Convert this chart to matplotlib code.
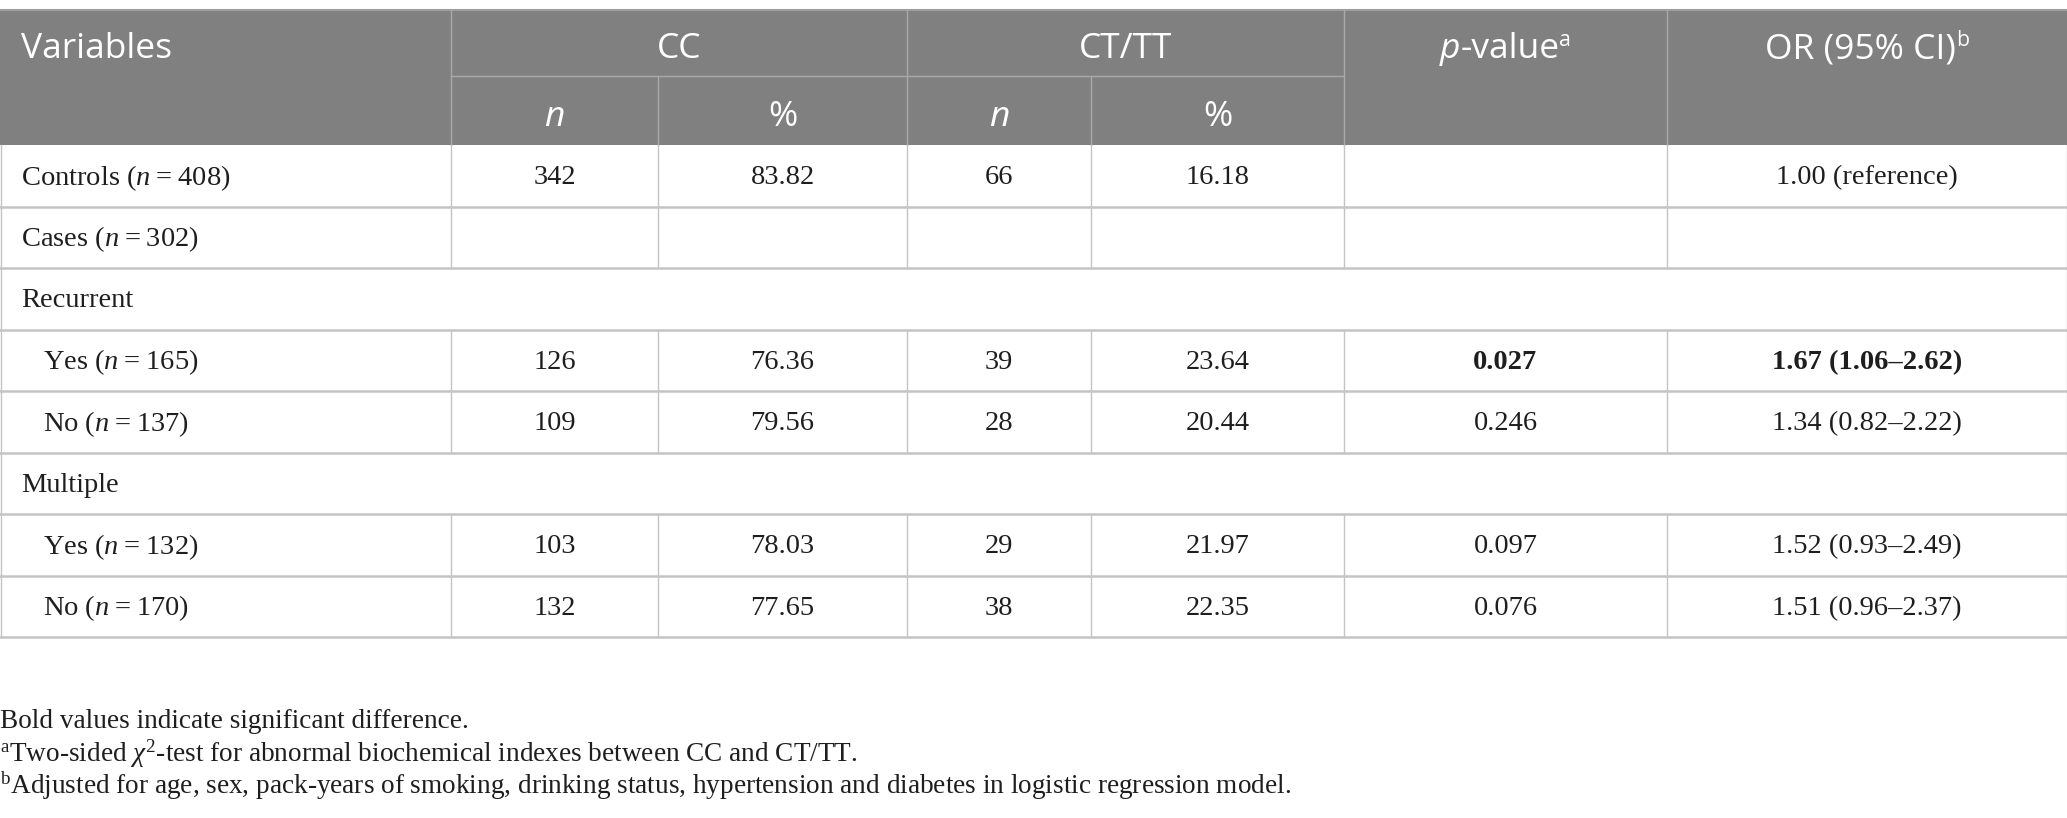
import matplotlib
matplotlib.use("Agg")
import matplotlib.pyplot as plt

plt.rcParams['mathtext.fontset'] = 'custom'
plt.rcParams['mathtext.rm'] = 'Liberation Serif'
plt.rcParams['mathtext.it'] = 'Liberation Serif:italic'
plt.rcParams['mathtext.bf'] = 'Liberation Serif:bold'

# table contents
row_labels = ["Controls ($n$\u2009=\u2009408)", "Cases ($n$\u2009=\u2009302)", "Recurrent",
              "Yes ($n$\u2009=\u2009165)", "No ($n$\u2009=\u2009137)", "Multiple",
              "Yes ($n$\u2009=\u2009132)", "No ($n$\u2009=\u2009170)"]
indented = [False, False, False, True, True, False, True, True]
group_row = [False, False, True, False, False, True, False, False]
cc_n = ["342", "", "", "126", "109", "", "103", "132"]
cc_pct = ["83.82", "", "", "76.36", "79.56", "", "78.03", "77.65"]
ct_n = ["66", "", "", "39", "28", "", "29", "38"]
ct_pct = ["16.18", "", "", "23.64", "20.44", "", "21.97", "22.35"]
p_values = ["", "", "", "0.027", "0.246", "", "0.097", "0.076"]
odds = ["1.00 (reference)", "", "", "1.67 (1.06\u20132.62)",
        "1.34 (0.82\u20132.22)", "", "1.52 (0.93\u20132.49)",
        "1.51 (0.96\u20132.37)"]
bold_row = [False, False, False, True, False, False, False, False]
footnotes = ["Bold values indicate significant difference.",
             "${}^{\\mathrm{a}}$Two-sided $\\chi^{\\mathrm{2}}$-test for abnormal biochemical indexes between CC and CT/TT.",
             "${}^{\\mathrm{b}}$Adjusted for age, sex, pack-years of smoking, drinking status, hypertension and diabetes in logistic regression model."]

W, H = 2067, 818
fig = plt.figure(figsize=(W / 100, H / 100), dpi=100)
ax = fig.add_axes([0, 0, 1, 1])
ax.set_xlim(0, W)
ax.set_ylim(H, 0)
ax.axis('off')

cols = [0, 451, 658, 907, 1091, 1344, 1667, W]
head_top, head_mid, head_bot = 10, 76, 145
row_h = 61.5
header_gray = '#808080'
head_line = '#a9a9a9'
body_line = '#c4c4c4'
ink = '#1e1e1e'
hfont = 'Open Sans'
bfont = 'Liberation Serif'
hsize = 25.5
bsize = 20.5

# header block
ax.add_patch(plt.Rectangle((0, head_top), W, head_bot - head_top,
                           facecolor=header_gray, edgecolor='none'))
ax.plot([0, W], [head_top, head_top], color='#9e9e9e', lw=1.5)
for x in [451, 907, 1344, 1667]:
    ax.plot([x, x], [head_top, head_bot], color=head_line, lw=1)
for x in [658, 1091]:
    ax.plot([x, x], [head_mid, head_bot], color=head_line, lw=1)
ax.plot([451, 1344], [head_mid, head_mid], color=head_line, lw=1)

renderer = fig.canvas.get_renderer()


def put_runs(xc, base, parts):
    texts = []
    for s, kw, dy in parts:
        t = ax.text(0, base + dy, s, va='baseline', ha='left', **kw)
        texts.append(t)
    widths = [t.get_window_extent(renderer).width for t in texts]
    x0 = xc - sum(widths) / 2
    for t, w in zip(texts, widths):
        t.set_x(x0)
        x0 += w


hkw = dict(family=hfont, size=hsize, color='white')
hsup = dict(family=hfont, size=hsize * 0.6, color='white')
hbase = 58
ax.text(21, hbase, "Variables", va='baseline', ha='left', **hkw)
ax.text((cols[1] + cols[3]) / 2, hbase, "CC", va='baseline', ha='center', **hkw)
ax.text((cols[3] + cols[5]) / 2, hbase, "CT/TT", va='baseline', ha='center', **hkw)
put_runs((cols[5] + cols[6]) / 2, hbase,
         [("p", dict(hkw, style='italic'), 0), ("-value", hkw, 0), ("a", hsup, -12)])
put_runs((cols[6] + cols[7]) / 2, hbase,
         [("OR (95% CI)", hkw, 0), ("b", hsup, -12)])
for i, lab in enumerate(["n", "%", "n", "%"]):
    ax.text((cols[i + 1] + cols[i + 2]) / 2, 126, lab, va='baseline', ha='center',
            style='italic' if lab == 'n' else 'normal', **hkw)

# body rows
table_cols = [cc_n, cc_pct, ct_n, ct_pct, p_values, odds]
for r in range(len(row_labels)):
    top = head_bot + r * row_h
    bot = top + row_h
    yc = (top + bot) / 2 + 2
    ax.plot([0, W], [bot, bot], color=body_line, lw=1.8)
    ax.plot([0.5, 0.5], [top, bot], color=body_line, lw=1)
    ax.plot([W - 0.5, W - 0.5], [top, bot], color=body_line, lw=1)
    if not group_row[r]:
        for x in cols[1:-1]:
            ax.plot([x, x], [top, bot], color=body_line, lw=1)
    ax.text(43 if indented[r] else 21, yc, row_labels[r], va='center', ha='left',
            family=bfont, size=bsize, color=ink)
    for c, vals in enumerate(table_cols):
        if vals[r]:
            bold = bold_row[r] and c >= 4
            ax.text((cols[c + 1] + cols[c + 2]) / 2, yc, vals[r], va='center',
                    ha='center', family=bfont, size=bsize, color=ink,
                    weight='bold' if bold else 'normal')

# footnotes
for i, note in enumerate(footnotes):
    ax.text(0, 721 + i * 32.5, note, va='center', ha='left',
            family=bfont, size=19.6, color=ink)

plt.savefig('out.png', dpi=100)
